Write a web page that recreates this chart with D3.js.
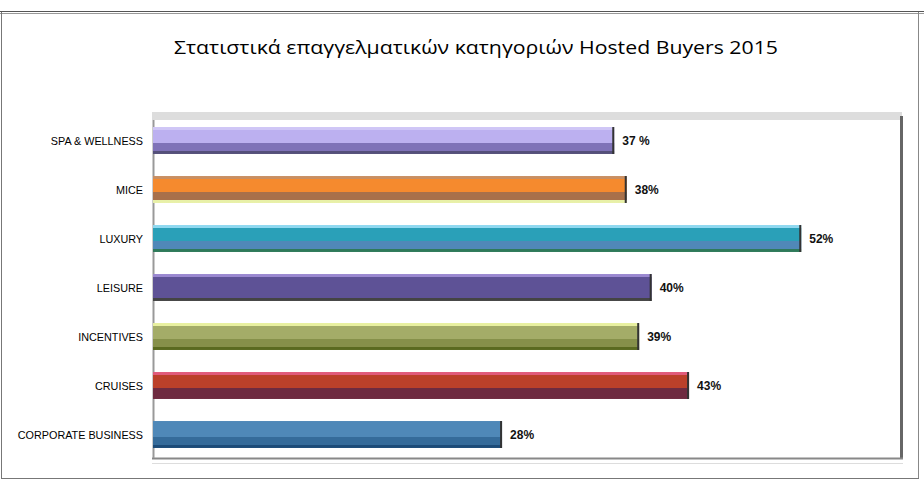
<!DOCTYPE html>
<html>
<head>
<meta charset="utf-8">
<script src="https://cdn.jsdelivr.net/npm/d3@7"></script>
<style>
  body { margin: 0; background: #fff; }
  svg { display: block; }
</style>
</head>
<body>
<svg id="chart" width="924" height="489"></svg>
<script>
const categories = ["SPA & WELLNESS", "MICE", "LUXURY", "LEISURE", "INCENTIVES", "CRUISES", "CORPORATE BUSINESS"];
const values = [37, 38, 52, 40, 39, 43, 28];
const valueLabels = ["37 %", "38%", "52%", "40%", "39%", "43%", "28%"];
// top edge, main, lower, bottom edge
const barColors = [
    ["#cfc6f6", "#bcb0f0", "#7f72b8", "#55507a"],
    ["#c98f62", "#f58a2e", "#a8704a", "#e8f0a8"],
    ["#8fd8f0", "#2aa0b8", "#5088b8", "#2e7a5a"],
    ["#9a88d0", "#5e5296", "#5e5296", "#444444"],
    ["#e8f0a0", "#a4ac68", "#86904a", "#5a6a20"],
    ["#e05a7a", "#bb402a", "#6e2a40", "#6e2a40"],
    ["#4f88b8", "#4f88b8", "#356b9a", "#1c4b78"],
];

const svg = d3.select("#chart");

// outer frame
svg.append("line").attr("x1", 0).attr("x2", 924).attr("y1", 11.5).attr("y2", 11.5).attr("stroke", "#555");
svg.append("line").attr("x1", 0).attr("x2", 924).attr("y1", 13.5).attr("y2", 13.5).attr("stroke", "#999");
svg.append("line").attr("x1", 1.5).attr("x2", 1.5).attr("y1", 12).attr("y2", 479).attr("stroke", "#777");
svg.append("line").attr("x1", 918.5).attr("x2", 918.5).attr("y1", 12).attr("y2", 479).attr("stroke", "#888");
svg.append("line").attr("x1", 1).attr("x2", 919).attr("y1", 478.5).attr("y2", 478.5).attr("stroke", "#777");

const x = d3.scaleLinear().domain([0, 60]).range([153, 901]);
const y = d3.scaleBand().domain(categories).range([116, 459]).paddingInner(0.45).paddingOuter(0.225);

// plot area
svg.append("rect").attr("x", 152).attr("y", 112).attr("width", 750).attr("height", 8).attr("fill", "#dddddd");
svg.append("rect").attr("x", 900).attr("y", 116).attr("width", 3).attr("height", 343).attr("fill", "#666");
svg.append("line").attr("x1", 152).attr("x2", 903).attr("y1", 458.5).attr("y2", 458.5).attr("stroke", "#888").attr("stroke-width", 2);
svg.append("line").attr("x1", 152).attr("x2", 903).attr("y1", 463.5).attr("y2", 463.5).attr("stroke", "#ddd");
svg.append("line").attr("x1", 153.5).attr("x2", 153.5).attr("y1", 120).attr("y2", 458).attr("stroke", "#999").attr("stroke-width", 2);

// title
svg.append("text")
    .attr("x", 476).attr("y", 54)
    .attr("text-anchor", "middle")
    .attr("font-family", "'Open Sans', sans-serif")
    .attr("font-size", 19)
    .attr("fill", "#000")
    .attr("textLength", 604)
    .attr("lengthAdjust", "spacingAndGlyphs")
    .text("Στατιστικά επαγγελματικών κατηγοριών Hosted Buyers 2015");

const defs = svg.append("defs");
barColors.forEach((c, i) => {
    const g = defs.append("linearGradient").attr("id", "g" + i)
        .attr("x1", 0).attr("x2", 0).attr("y1", 0).attr("y2", 1);
    [[0, c[0]], [0.12, c[0]], [0.12, c[1]], [0.6, c[1]], [0.6, c[2]], [0.9, c[2]], [0.9, c[3]], [1, c[3]]]
        .forEach(s => g.append("stop").attr("offset", s[0]).attr("stop-color", s[1]));
});

const bar = svg.selectAll(".bar").data(categories).enter().append("g").attr("class", "bar");

bar.append("rect")
    .attr("x", x(0))
    .attr("y", d => y(d))
    .attr("width", (d, i) => x(values[i]) - x(0))
    .attr("height", y.bandwidth())
    .attr("fill", (d, i) => `url(#g${i})`);

// dark end cap
bar.append("rect")
    .attr("x", (d, i) => x(values[i]) - 2)
    .attr("y", d => y(d))
    .attr("width", 2)
    .attr("height", y.bandwidth())
    .attr("fill", "#333");

bar.append("text")
    .attr("x", (d, i) => x(values[i]) + 8)
    .attr("y", d => y(d) + y.bandwidth() / 2 + 4)
    .attr("font-family", "'Liberation Sans', Arial, sans-serif")
    .attr("font-weight", "bold")
    .attr("font-size", 12)
    .attr("fill", "#111")
    .text((d, i) => valueLabels[i]);

bar.append("text")
    .attr("x", 143)
    .attr("y", d => y(d) + y.bandwidth() / 2 + 4)
    .attr("text-anchor", "end")
    .attr("font-family", "'Liberation Sans', Arial, sans-serif")
    .attr("font-size", 10.8)
    .attr("fill", "#000")
    .text(d => d);
</script>
</body>
</html>
